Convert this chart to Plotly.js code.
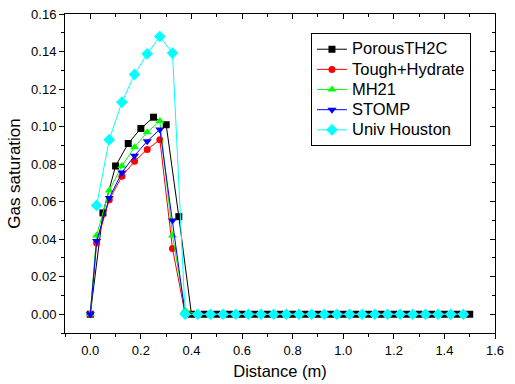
<!DOCTYPE html>
<html>
<head>
<meta charset="utf-8">
<script src="https://cdn.plot.ly/plotly-3.0.1.min.js"></script>
<style>html,body{margin:0;padding:0;background:#fff;}#chart{width:515px;height:384px;}</style>
</head>
<body>
<div id="chart"></div>
<script>
// Data
var seriesNames = ["PorousTH2C", "Tough+Hydrate", "MH21", "STOMP", "Univ Houston"];

// PorousTH2C: x in 0.05 steps
var xPorous = [0, 0.05, 0.10, 0.15, 0.20, 0.25, 0.30, 0.35, 0.40, 0.45, 0.50, 0.55, 0.60, 0.65, 0.70, 0.75, 0.80, 0.85, 0.90, 0.95, 1.00, 1.05, 1.10, 1.15, 1.20, 1.25, 1.30, 1.35, 1.40, 1.45, 1.50];
var yPorous = [0, 0.054, 0.079, 0.091, 0.099, 0.105, 0.101, 0.052, 0, 0, 0, 0, 0, 0, 0, 0, 0, 0, 0, 0, 0, 0, 0, 0, 0, 0, 0, 0, 0, 0, 0];

// Tough+Hydrate, MH21, STOMP share x positions
var xOther = [0, 0.025, 0.075, 0.125, 0.175, 0.225, 0.275, 0.325, 0.375, 0.425, 0.475, 0.525, 0.575, 0.625, 0.675, 0.725, 0.775, 0.825, 0.875, 0.925, 0.975, 1.025, 1.075, 1.125, 1.175, 1.225, 1.275, 1.325, 1.375, 1.425, 1.475];
var yTough = [0, 0.038, 0.061, 0.0735, 0.0815, 0.0878, 0.0930, 0.035, 0, 0, 0, 0, 0, 0, 0, 0, 0, 0, 0, 0, 0, 0, 0, 0, 0, 0, 0, 0, 0, 0, 0];
var yMH21 = [0, 0.042, 0.066, 0.0790, 0.0890, 0.0970, 0.1030, 0.042, 0.002, 0, 0, 0, 0, 0, 0, 0, 0, 0, 0, 0, 0, 0, 0, 0, 0, 0, 0, 0, 0, 0, 0];
var ySTOMP = [0, 0.039, 0.062, 0.0755, 0.0845, 0.0922, 0.0985, 0.050, 0, 0, 0, 0, 0, 0, 0, 0, 0, 0, 0, 0, 0, 0, 0, 0, 0, 0, 0, 0, 0, 0, 0];

// Univ Houston
var xHouston = [0.025, 0.075, 0.125, 0.175, 0.225, 0.275, 0.325, 0.375, 0.425, 0.475, 0.525, 0.575, 0.625, 0.675, 0.725, 0.775, 0.825, 0.875, 0.925, 0.975, 1.025, 1.075, 1.125, 1.175, 1.225, 1.275, 1.325, 1.375, 1.425, 1.475];
var yHouston = [0.058, 0.093, 0.113, 0.1278, 0.1388, 0.1480, 0.1392, 0, 0, 0, 0, 0, 0, 0, 0, 0, 0, 0, 0, 0, 0, 0, 0, 0, 0, 0, 0, 0, 0, 0];

var xTickVals = [0, 0.2, 0.4, 0.6, 0.8, 1.0, 1.2, 1.4, 1.6];
var yTickVals = [0, 0.02, 0.04, 0.06, 0.08, 0.10, 0.12, 0.14, 0.16];

function tr(name, x, y, color, symbol, size) {
  return {
    type: 'scatter', mode: 'lines+markers',
    name: '<span style="font-size:16.5px">' + name + '</span>', x: x, y: y,
    line: {color: color, width: 1},
    marker: {color: color, symbol: symbol, size: size, line: {width: 0}},
    cliponaxis: false
  };
}

var data = [
  tr(seriesNames[0], xPorous, yPorous, '#000000', 'square', 7),
  tr(seriesNames[1], xOther, yTough, '#ff0000', 'circle', 7),
  tr(seriesNames[2], xOther, yMH21, '#00ff00', 'triangle-up', 8),
  tr(seriesNames[3], xOther, ySTOMP, '#0000ff', 'triangle-down', 8),
  tr(seriesNames[4], xHouston, yHouston, '#00ffff', 'diamond', 9)
];

var font = {family: 'Arial, "Liberation Sans", sans-serif', color: '#000'};
var xr = [-0.1, 1.6], yr = [-0.01, 0.16];

var layout = {
  width: 515, height: 384,
  margin: {l: 65, r: 20, t: 14, b: 51},
  paper_bgcolor: '#fff', plot_bgcolor: '#fff',
  font: {family: font.family, color: '#000', size: 13},
  showlegend: true,
  legend: {
    x: 0.572, y: 0.94, xanchor: 'left', yanchor: 'top',
    bgcolor: '#fff', bordercolor: '#000', borderwidth: 1,
    font: {family: font.family, size: 13.2, color: '#000'},
    tracegroupgap: 0
  },
  xaxis: {
    range: xr, tickvals: xTickVals, tickformat: '.1f',
    showgrid: false, zeroline: false, showline: true, linecolor: '#000', linewidth: 1,
    ticks: 'outside', ticklen: 5, tickcolor: '#000', tickwidth: 1,
    minor: {ticks: 'outside', ticklen: 3, dtick: 0.1, tick0: 0, tickcolor: '#000', showgrid: false},
    tickfont: {family: font.family, size: 13, color: '#000'},
    title: {text: 'Distance (m)', font: {family: font.family, size: 16.5, color: '#000'}, standoff: 8}
  },
  yaxis: {
    range: yr, tickvals: yTickVals, tickformat: '.2f',
    showgrid: false, zeroline: false, showline: true, linecolor: '#000', linewidth: 1,
    ticks: 'outside', ticklen: 5, tickcolor: '#000', tickwidth: 1,
    minor: {ticks: 'outside', ticklen: 3, dtick: 0.01, tick0: 0, tickcolor: '#000', showgrid: false},
    tickfont: {family: font.family, size: 13, color: '#000'},
    title: {text: 'Gas saturation', font: {family: font.family, size: 17, color: '#000'}, standoff: 6}
  },
  xaxis2: {
    overlaying: 'x', side: 'top', range: xr, tickvals: xTickVals, showticklabels: false,
    showgrid: false, zeroline: false, showline: true, linecolor: '#000', linewidth: 1,
    ticks: 'inside', ticklen: 5, tickcolor: '#000',
    minor: {ticks: 'inside', ticklen: 3, dtick: 0.1, tick0: 0, tickcolor: '#000', showgrid: false}
  },
  yaxis2: {
    overlaying: 'y', side: 'right', range: yr, tickvals: yTickVals, showticklabels: false,
    showgrid: false, zeroline: false, showline: true, linecolor: '#000', linewidth: 1,
    ticks: 'inside', ticklen: 5, tickcolor: '#000',
    minor: {ticks: 'inside', ticklen: 3, dtick: 0.01, tick0: 0, tickcolor: '#000', showgrid: false}
  }
};

data.push({type: 'scatter', x: [], y: [], xaxis: 'x2', yaxis: 'y2', showlegend: false, hoverinfo: 'skip'});

Plotly.newPlot('chart', data, layout, {displayModeBar: false, staticPlot: true});
</script>
</body>
</html>
